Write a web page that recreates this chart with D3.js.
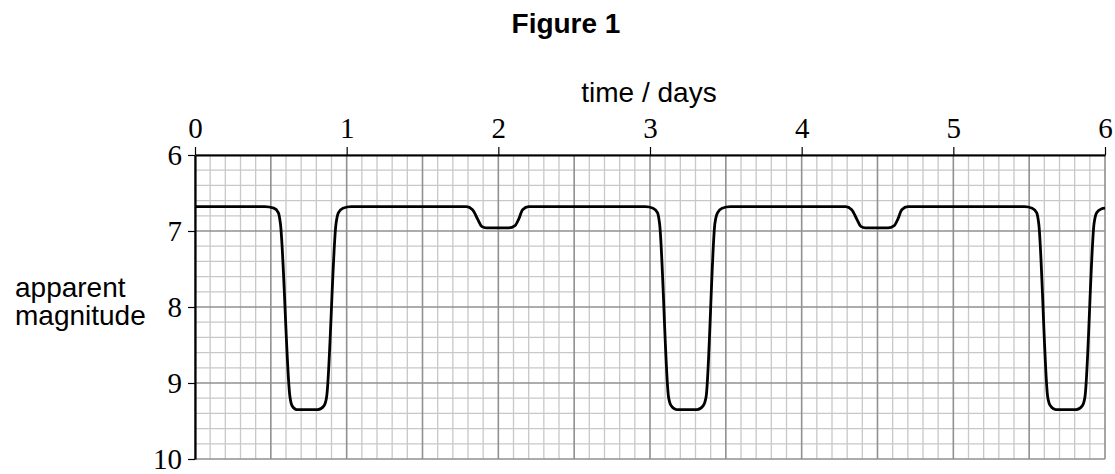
<!DOCTYPE html>
<html>
<head>
<meta charset="utf-8">
<script src="https://cdn.jsdelivr.net/npm/d3@7"></script>
<style>
  body { margin: 0; background: #fff; }
  svg { display: block; }
</style>
</head>
<body>
<div id="chart-area"></div>
<script>
// light curve: time in days, apparent magnitude
const timeDays = [
  0.00, 0.46, 0.52, 0.55, 0.563, 0.626, 0.64, 0.67, 0.81, 0.85, 0.868, 0.930, 0.945, 0.975, 1.03,
  1.79, 1.83, 1.865, 1.89, 1.92, 2.07, 2.11, 2.135, 2.16, 2.20,
  2.97, 3.02, 3.05, 3.063, 3.122, 3.14, 3.175, 3.31, 3.35, 3.37, 3.428, 3.445, 3.475, 3.53,
  4.29, 4.33, 4.365, 4.39, 4.42, 4.57, 4.61, 4.635, 4.66, 4.70,
  5.47, 5.52, 5.55, 5.563, 5.622, 5.64, 5.675, 5.81, 5.85, 5.868, 5.928, 5.945, 5.975, 6.00
]
const magnitude = [
  6.68, 6.68, 6.70, 6.76, 6.90, 9.18, 9.30, 9.35, 9.35, 9.30, 9.18, 6.90, 6.76, 6.70, 6.68,
  6.68, 6.72, 6.85, 6.94, 6.96, 6.96, 6.93, 6.84, 6.72, 6.68,
  6.68, 6.70, 6.76, 6.90, 9.18, 9.30, 9.35, 9.35, 9.30, 9.18, 6.90, 6.76, 6.70, 6.68,
  6.68, 6.72, 6.85, 6.94, 6.96, 6.96, 6.93, 6.84, 6.72, 6.68,
  6.68, 6.70, 6.76, 6.90, 9.18, 9.30, 9.35, 9.35, 9.30, 9.18, 6.90, 6.76, 6.71, 6.70
]
const xTicks = [0, 1, 2, 3, 4, 5, 6]
const yTicks = [6, 7, 8, 9, 10]

const W = 1115, H = 474
const LEFT = 195, RIGHT = 1105, TOP = 155, BOTTOM = 459

const svg = d3.select("#chart-area").append("svg")
    .attr("width", W)
    .attr("height", H)

const x = d3.scaleLinear().domain([0, 6]).range([LEFT, RIGHT])
const y = d3.scaleLinear().domain([6, 10]).range([TOP, BOTTOM])

// graph paper: 0.1 day columns, 0.2 magnitude rows
const xGrid = d3.range(0, 61).map(i => i / 10)
const yGrid = d3.range(0, 21).map(i => 6 + i / 5)
const isMajorX = d => Math.abs(d * 2 - Math.round(d * 2)) < 1e-6
const isMajorY = d => Math.abs(d - Math.round(d)) < 1e-6

const grid = svg.append("g").attr("class", "grid")
grid.selectAll(".vminor")
    .data(xGrid.filter(d => !isMajorX(d)))
    .enter().append("line")
    .attr("x1", d => x(d)).attr("x2", d => x(d))
    .attr("y1", TOP).attr("y2", BOTTOM)
    .attr("stroke", "#c8c8c8").attr("stroke-width", 1.3)
grid.selectAll(".hminor")
    .data(yGrid.filter(d => !isMajorY(d)))
    .enter().append("line")
    .attr("x1", LEFT).attr("x2", RIGHT)
    .attr("y1", d => y(d)).attr("y2", d => y(d))
    .attr("stroke", "#c8c8c8").attr("stroke-width", 1.3)
grid.selectAll(".vmajor")
    .data(xGrid.filter(isMajorX))
    .enter().append("line")
    .attr("x1", d => x(d)).attr("x2", d => x(d))
    .attr("y1", TOP).attr("y2", BOTTOM)
    .attr("stroke", "#909090").attr("stroke-width", 1.6)
grid.selectAll(".hmajor")
    .data(yGrid.filter(isMajorY))
    .enter().append("line")
    .attr("x1", LEFT).attr("x2", RIGHT)
    .attr("y1", d => y(d)).attr("y2", d => y(d))
    .attr("stroke", "#909090").attr("stroke-width", 1.6)

// axes
const xAxis = svg.append("g")
    .attr("transform", `translate(0, ${TOP})`)
    .call(d3.axisTop(x).tickValues(xTicks).tickSize(8).tickSizeOuter(0).tickPadding(9).tickFormat(d3.format("d")))
const yAxis = svg.append("g")
    .attr("transform", `translate(${LEFT}, 0)`)
    .call(d3.axisLeft(y).tickValues(yTicks).tickSize(7).tickSizeOuter(0).tickPadding(6).tickFormat(d3.format("d")))

;[xAxis, yAxis].forEach(a => {
    a.select(".domain").attr("stroke", "#000").attr("stroke-width", 2.2)
    a.selectAll(".tick line").attr("stroke", "#000").attr("stroke-width", 1.2)
    a.selectAll(".tick text")
        .attr("fill", "#000")
        .style("font-family", "'Liberation Serif', 'Times New Roman', serif")
        .style("font-size", "29px")
})

// curve
const points = timeDays.map((t, i) => ({ t: t, m: magnitude[i] }))
const line = d3.line()
    .curve(d3.curveMonotoneX)
    .x(d => x(d.t))
    .y(d => y(d.m))

svg.append("path")
    .attr("class", "line")
    .attr("d", line(points))
    .attr("fill", "none")
    .attr("stroke", "#000")
    .attr("stroke-width", 2.8)
    .attr("stroke-linejoin", "round")

// labels
const sans = "'Liberation Sans', Arial, Helvetica, sans-serif"
svg.append("text")
    .attr("x", 566).attr("y", 33)
    .attr("text-anchor", "middle")
    .style("font-family", sans).style("font-size", "28px").style("font-weight", "bold")
    .text("Figure 1")

svg.append("text")
    .attr("x", 649).attr("y", 102)
    .attr("text-anchor", "middle")
    .style("font-family", sans).style("font-size", "28px")
    .text("time / days")

const yLab = svg.append("text")
    .style("font-family", sans).style("font-size", "28px")
yLab.append("tspan").attr("x", 15).attr("y", 297).text("apparent")
yLab.append("tspan").attr("x", 15).attr("y", 325).text("magnitude")
</script>
</body>
</html>
